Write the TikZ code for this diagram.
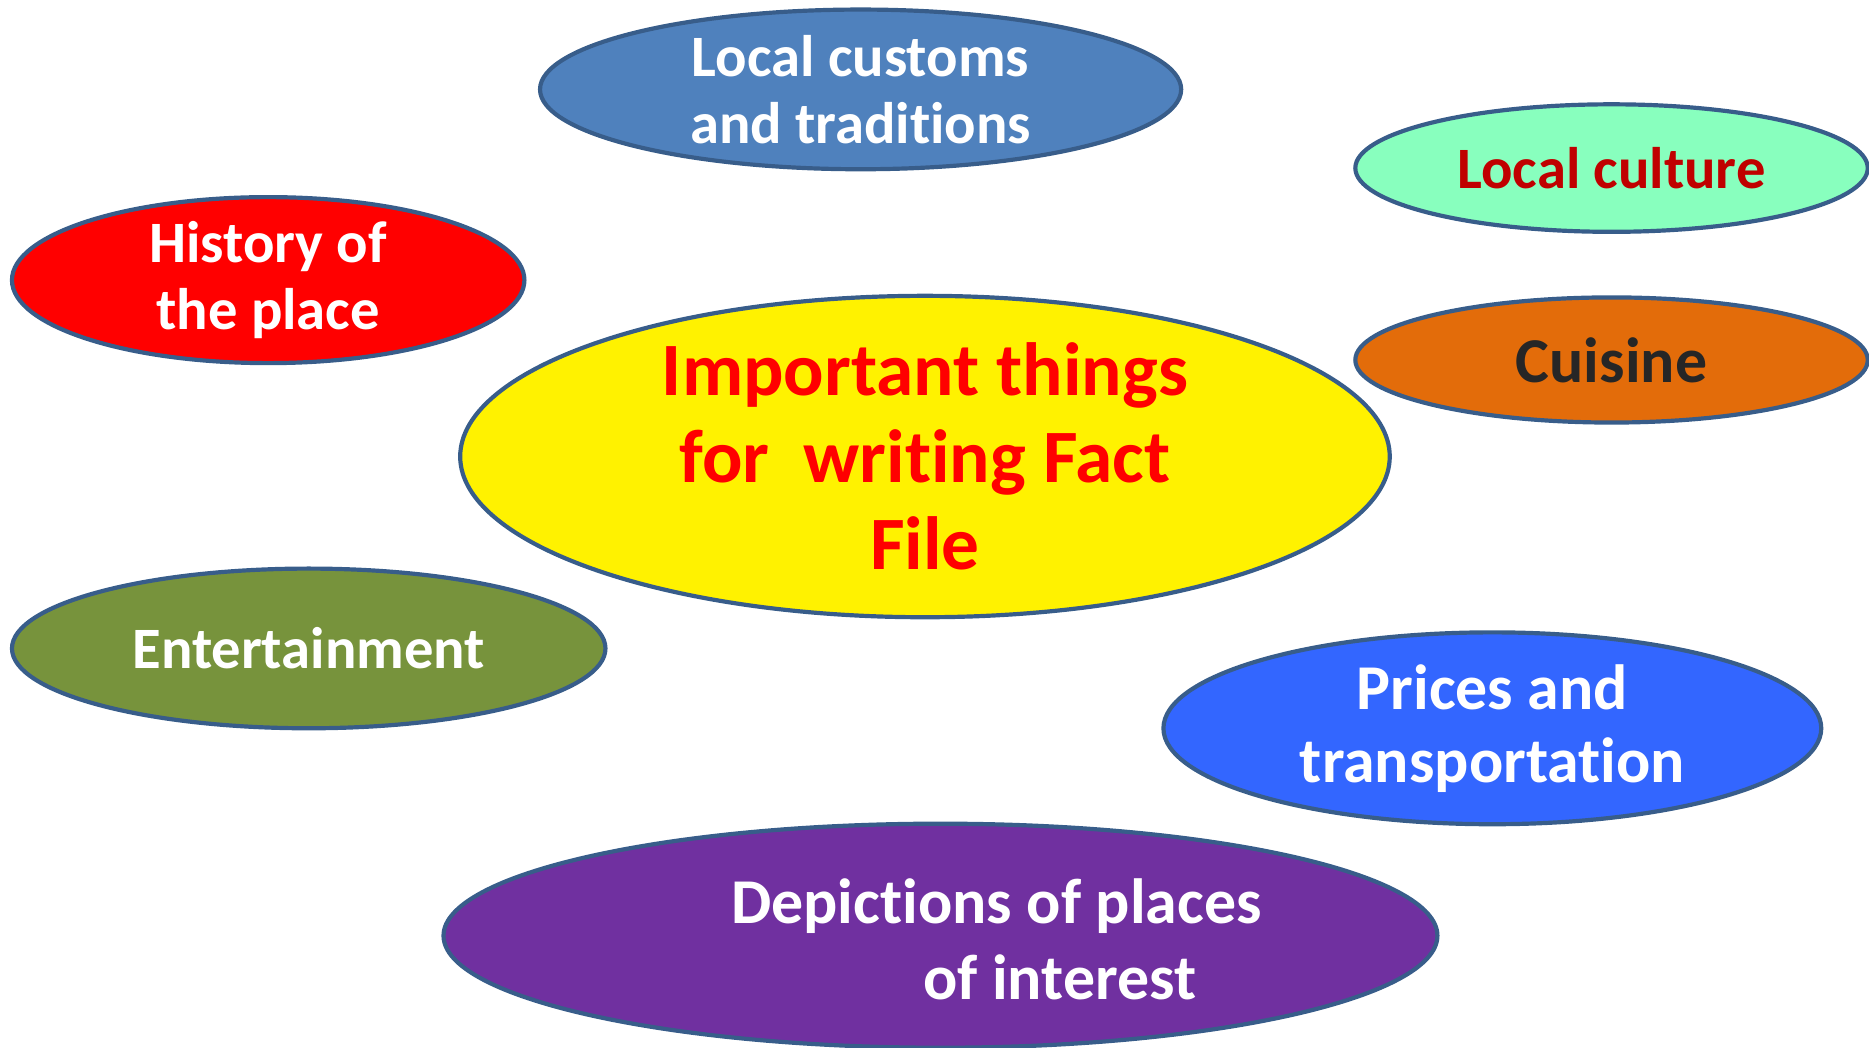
\documentclass[tikz,border=0pt]{standalone}
\usepackage{fontspec}
\setmainfont{Carlito}[Ligatures=NoCommon]
\usetikzlibrary{shapes.geometric}

\definecolor{rim}{RGB}{56,93,138}
\definecolor{custblue}{RGB}{79,129,189}
\definecolor{mint}{RGB}{136,255,190}
\definecolor{darkred}{RGB}{192,0,0}
\definecolor{orangefill}{RGB}{227,108,10}
\definecolor{nearblack}{RGB}{38,38,38}
\definecolor{olive}{RGB}{119,147,60}
\definecolor{brightblue}{RGB}{51,102,255}
\definecolor{purplefill}{RGB}{112,48,160}

\tikzset{
  bubble/.style={ellipse, draw=rim, line width=2pt, inner sep=0pt, align=center,
    font=\fontsize{28}{32}\selectfont\bfseries},
  bigtext/.style={font=\fontsize{30.5}{35}\selectfont\bfseries},
}

\begin{document}
\begin{tikzpicture}[x=0.02cm, y=-0.02cm]
\useasboundingbox (0,0) rectangle (1568,879);

\node[bubble, fill=yellow, text=red, minimum width=15.6cm, minimum height=5.36cm,
  font=\fontsize{36}{41.5}\selectfont\bfseries] (main) at (776,383)
  {Important things\\for \ writing Fact\\File};

\node[bubble, fill=custblue, text=white, minimum width=10.76cm, minimum height=2.68cm] (customs) at (722,75)
  {Local customs\\and traditions};
\node[bubble, fill=mint, text=darkred, minimum width=8.6cm, minimum height=2.14cm] (culture) at (1352,141)
  {Local culture};
\node[bubble, fill=red, text=white, minimum width=8.6cm, minimum height=2.68cm] (history) at (225,235)
  {History of\\the place};
\node[bubble, bigtext, fill=orangefill, text=nearblack, minimum width=8.6cm, minimum height=2.1cm] (cuisine) at (1352,302)
  {Cuisine};
\node[bubble, fill=olive, text=white, minimum width=9.96cm, minimum height=2.68cm] (fun) at (259,544)
  {Entertainment};
\node[bubble, bigtext, fill=brightblue, text=white, minimum width=11.04cm, minimum height=3.22cm] (prices) at (1252,611)
  {Prices and\\transportation};

\node[bubble, fill=purplefill, minimum width=16.68cm, minimum height=3.76cm] (sights) at (789,785) {};
\node[bigtext, align=left, text=white, inner sep=0pt, font=\fontsize{30.5}{36.5}\selectfont\bfseries] (sightstext) at (836,788)
  {Depictions of places\\\hspace*{3.22cm}of interest};

\end{tikzpicture}
\end{document}
